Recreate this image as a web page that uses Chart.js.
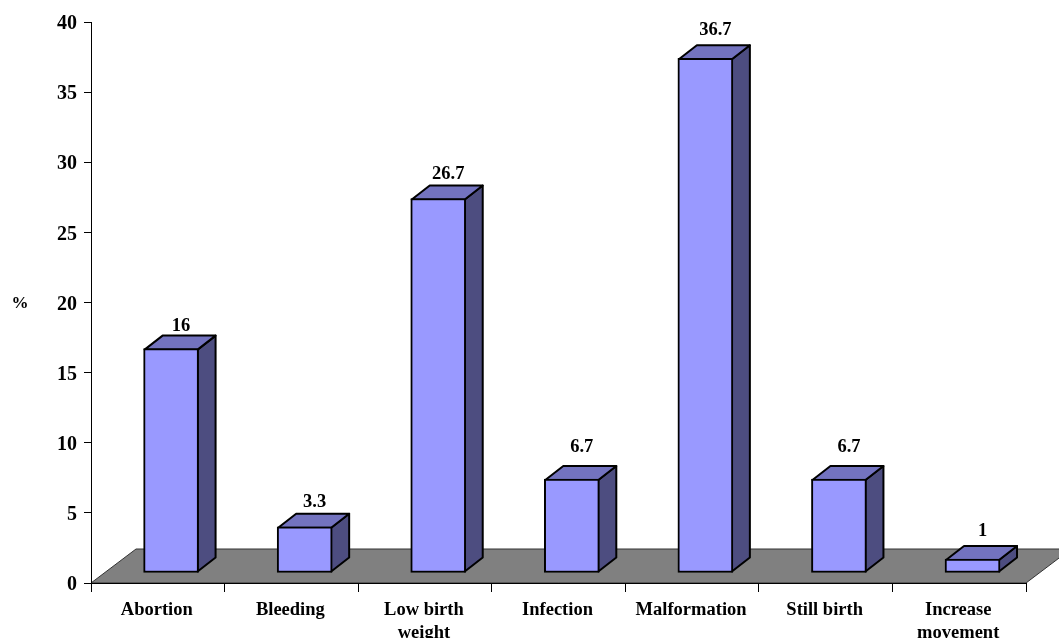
<!DOCTYPE html>
<html>
<head>
<meta charset="utf-8">
<title>Chart</title>
<script src="https://cdn.jsdelivr.net/npm/chart.js@4/dist/chart.umd.min.js"></script>
<style>
  html, body { margin: 0; padding: 0; background: #fff; }
  #wrap { width: 1059px; height: 638px; }
</style>
</head>
<body>
<div id="wrap"><canvas id="outcomeChart"></canvas></div>
<script>
const categories = ['Abortion', 'Bleeding', ['Low birth', 'weight'], 'Infection', 'Malformation', 'Still birth', ['Increase', 'movement']];
const percentValues = [16, 3.3, 26.7, 6.7, 36.7, 6.7, 1];
const yTicks = [0, 5, 10, 15, 20, 25, 30, 35, 40];
// gap between each value label and the top of its bar
const labelLift = [8.5, 10, 10.5, 18, 14, 18, 14];

const serif = '"Liberation Serif", "Times New Roman", serif';

// fake 3D: floor depth, bar depth and how far bars sit in from the front edge
const FLOOR = { dx: 45, dy: -34 };
const BAR = { dx: 18, dy: -14, shiftX: 13.3, shiftY: -10 };

const pseudo3d = {
  id: 'pseudo3d',
  afterUpdate(chart) {
    // nudge tick labels off their default spots
    chart.scales.y.getLabelItems().forEach(item => { item.options.translation[1] += 2; });
    chart.scales.x.getLabelItems().forEach(item => { item.options.translation[0] -= 1; });
  },
  beforeDatasetsDraw(chart) {
    const { ctx, scales: { x, y } } = chart;
    const y0 = y.getPixelForValue(0);

    // grey floor
    ctx.save();
    ctx.beginPath();
    ctx.moveTo(x.left, y0);
    ctx.lineTo(x.right, y0);
    ctx.lineTo(x.right + FLOOR.dx, y0 + FLOOR.dy);
    ctx.lineTo(x.left + FLOOR.dx, y0 + FLOOR.dy);
    ctx.closePath();
    ctx.fillStyle = '#808080';
    ctx.fill();
    ctx.strokeStyle = '#333';
    ctx.lineWidth = 1;
    ctx.stroke();
    ctx.restore();

    // bars are pushed back onto the floor
    ctx.save();
    ctx.translate(BAR.shiftX, BAR.shiftY);

    // side and top faces
    chart.getDatasetMeta(0).data.forEach(bar => {
      const l = bar.x - bar.width / 2 + 1;
      const r = bar.x + bar.width / 2 - 1;
      ctx.lineWidth = 2;
      ctx.strokeStyle = '#000';
      ctx.lineJoin = 'round';

      ctx.beginPath();
      ctx.moveTo(r, bar.y + 1);
      ctx.lineTo(r + BAR.dx, bar.y + 1 + BAR.dy);
      ctx.lineTo(r + BAR.dx, bar.base - 1 + BAR.dy);
      ctx.lineTo(r, bar.base - 1);
      ctx.closePath();
      ctx.fillStyle = '#4d4d80';
      ctx.fill();
      ctx.stroke();

      ctx.beginPath();
      ctx.moveTo(l, bar.y + 1);
      ctx.lineTo(l + BAR.dx, bar.y + 1 + BAR.dy);
      ctx.lineTo(r + BAR.dx, bar.y + 1 + BAR.dy);
      ctx.lineTo(r, bar.y + 1);
      ctx.closePath();
      ctx.fillStyle = '#7373bf';
      ctx.fill();
      ctx.stroke();
    });
  },
  afterDatasetsDraw(chart) {
    const { ctx } = chart;
    ctx.restore();

    // value labels above each bar
    ctx.save();
    ctx.font = 'bold 18.5px ' + serif;
    ctx.fillStyle = '#000';
    ctx.textAlign = 'center';
    ctx.textBaseline = 'middle';
    chart.getDatasetMeta(0).data.forEach((bar, i) => {
      ctx.fillText(String(percentValues[i]), bar.x + BAR.shiftX + 10, bar.y + BAR.shiftY + BAR.dy - labelLift[i]);
    });

    // horizontal axis unit
    ctx.font = 'bold 17px ' + serif;
    ctx.fillText('%', 20, 304);
    ctx.restore();
  }
};

new Chart(document.getElementById('outcomeChart'), {
  type: 'bar',
  data: {
    labels: categories,
    datasets: [{
      data: percentValues,
      backgroundColor: '#9999ff',
      borderColor: '#000',
      borderWidth: 2,
      borderSkipped: false,
      barThickness: 55,
      clip: false
    }]
  },
  options: {
    responsive: true,
    maintainAspectRatio: false,
    animation: false,
    layout: { padding: { top: 22, right: 33, left: 0, bottom: 0 } },
    plugins: {
      legend: { display: false },
      title: { display: false },
      tooltip: { enabled: false }
    },
    scales: {
      x: {
        afterFit: s => { s.height = 55; },
        grid: { drawOnChartArea: false, drawTicks: true, tickLength: 9, color: '#000', z: 1 },
        border: { color: '#000', width: 1, z: 1 },
        ticks: {
          color: '#000',
          padding: 7,
          maxRotation: 0,
          autoSkip: false,
          font: { family: serif, size: 18.5, weight: 'bold', lineHeight: 1.22 }
        }
      },
      y: {
        min: 0,
        max: 40,
        afterFit: s => { s.width = 91; },
        afterBuildTicks: s => { s.ticks = yTicks.map(v => ({ value: v })); },
        grid: { drawOnChartArea: false, drawTicks: true, tickLength: 7, color: '#000', z: 1 },
        border: { color: '#000', width: 1, z: 1 },
        ticks: {
          color: '#000',
          padding: 7,
          font: { family: serif, size: 20, weight: 'bold' }
        }
      }
    }
  },
  plugins: [pseudo3d]
});
</script>
</body>
</html>
